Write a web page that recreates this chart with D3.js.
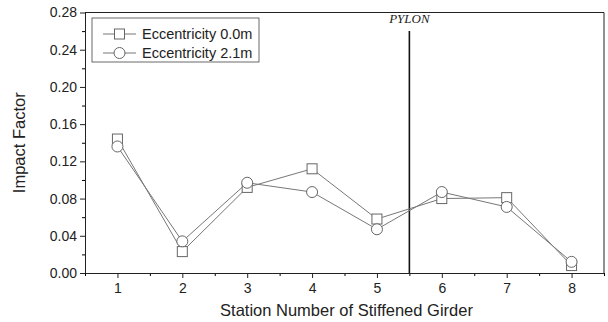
<!DOCTYPE html>
<html>
<head>
<meta charset="utf-8">
<script src="https://cdn.jsdelivr.net/npm/d3@7"></script>
<style>
  body { margin: 0; background: #fff; }
  #chart-container { width: 608px; height: 322px; }
  text { font-family: "Liberation Sans", Arial, sans-serif; fill: #222; }
</style>
</head>
<body>
<div id="chart-container"></div>
<script>
const stations = [1, 2, 3, 4, 5, 6, 7, 8];
const ecc00 = [0.144, 0.023, 0.092, 0.112, 0.058, 0.080, 0.081, 0.008];
const ecc21 = [0.136, 0.034, 0.097, 0.087, 0.047, 0.087, 0.071, 0.012];
const yTicks = [0.00, 0.04, 0.08, 0.12, 0.16, 0.20, 0.24, 0.28];
const pylonAt = 5.5;

const margin = { top: 12.5, right: 4, bottom: 49, left: 85 };
const width = 608 - margin.left - margin.right;
const height = 322 - margin.top - margin.bottom;

const svg = d3.select("#chart-container")
  .append("svg")
  .attr("width", 608)
  .attr("height", 322)
  .append("g")
  .attr("transform", `translate(${margin.left},${margin.top})`);

const x = d3.scaleLinear().domain([0.5, 8.5]).range([0, width]);
const y = d3.scaleLinear().domain([0, 0.28]).range([height, 0]);

// minor ticks
const xMinor = d3.range(0.5, 8.6, 0.5).filter(v => !stations.includes(v));
const yMinor = d3.range(0.02, 0.28, 0.04);

svg.append("g")
  .attr("transform", `translate(0,${height})`)
  .call(d3.axisBottom(x).tickValues(xMinor).tickSize(3).tickFormat(""))
  .call(g => g.select(".domain").remove());
svg.append("g")
  .call(d3.axisLeft(y).tickValues(yMinor).tickSize(3).tickFormat(""))
  .call(g => g.select(".domain").remove());

const xAxis = svg.append("g")
  .attr("transform", `translate(0,${height})`)
  .call(d3.axisBottom(x).tickValues(stations).tickSize(5).tickSizeOuter(0).tickFormat(d3.format("d")));
const yAxis = svg.append("g")
  .call(d3.axisLeft(y).tickValues(yTicks).tickSize(5).tickSizeOuter(0).tickFormat(d3.format(".2f")));

[xAxis, yAxis].forEach(g => {
  g.selectAll("text").style("font-size", "14px").style("font-family", "Liberation Sans, Arial, sans-serif").attr("fill", "#222");
  g.selectAll("line").attr("stroke", "#222");
  g.select(".domain").attr("stroke", "#222");
});
xAxis.selectAll("text").attr("dy", "0.85em");

// frame top/right
svg.append("line").attr("x1", 0).attr("x2", width).attr("y1", 0).attr("y2", 0).attr("stroke", "#222");
svg.append("line").attr("x1", width).attr("x2", width).attr("y1", 0).attr("y2", height).attr("stroke", "#222");

svg.append("text")
  .attr("x", width / 2 + 2).attr("y", height + 43)
  .attr("text-anchor", "middle")
  .style("font-size", "16.5px")
  .text("Station Number of Stiffened Girder");

svg.append("text")
  .attr("transform", "rotate(-90)")
  .attr("x", -height / 2).attr("y", -60)
  .attr("text-anchor", "middle")
  .style("font-size", "16.5px")
  .text("Impact Factor");

// pylon
svg.append("line")
  .attr("x1", x(pylonAt)).attr("x2", x(pylonAt))
  .attr("y1", 18.5).attr("y2", height)
  .attr("stroke", "#111").attr("stroke-width", 1.6);
svg.append("text")
  .attr("x", x(pylonAt)).attr("y", 10.5)
  .attr("text-anchor", "middle")
  .style("font-family", "Liberation Serif, Times New Roman, serif")
  .style("font-style", "italic")
  .style("font-size", "13px")
  .text("PYLON");

const lineGen = d3.line().x((d, i) => x(stations[i])).y(d => y(d));
const series = [
  { name: "Eccentricity 0.0m", values: ecc00, shape: "square" },
  { name: "Eccentricity 2.1m", values: ecc21, shape: "circle" }
];

function drawMarker(g, shape, cx, cy) {
  if (shape === "square") {
    g.append("rect").attr("x", cx - 5).attr("y", cy - 5).attr("width", 10).attr("height", 10)
      .attr("fill", "#fff").attr("stroke", "#666").attr("stroke-width", 1);
  } else {
    g.append("circle").attr("cx", cx).attr("cy", cy).attr("r", 5.5)
      .attr("fill", "#fff").attr("stroke", "#666").attr("stroke-width", 1);
  }
}

series.forEach(s => {
  svg.append("path")
    .datum(s.values)
    .attr("d", lineGen)
    .attr("fill", "none")
    .attr("stroke", "#777")
    .attr("stroke-width", 1);
});
series.forEach(s => {
  const g = svg.append("g");
  s.values.forEach((v, i) => drawMarker(g, s.shape, x(stations[i]), y(v)));
});

// legend
const legend = svg.append("g").attr("transform", "translate(7,5.5)");
legend.append("rect").attr("width", 167).attr("height", 44)
  .attr("fill", "#fff").attr("stroke", "#444").attr("stroke-width", 0.8);
series.forEach((s, i) => {
  const ly = 16 + i * 19;
  const row = legend.append("g");
  row.append("line").attr("x1", 11).attr("x2", 44).attr("y1", ly).attr("y2", ly)
    .attr("stroke", "#777");
  drawMarker(row, s.shape, 27.5, ly);
  row.append("text").attr("x", 50).attr("y", ly).attr("dy", "0.35em")
    .style("font-size", "14.5px").text(s.name);
});
</script>
</body>
</html>
